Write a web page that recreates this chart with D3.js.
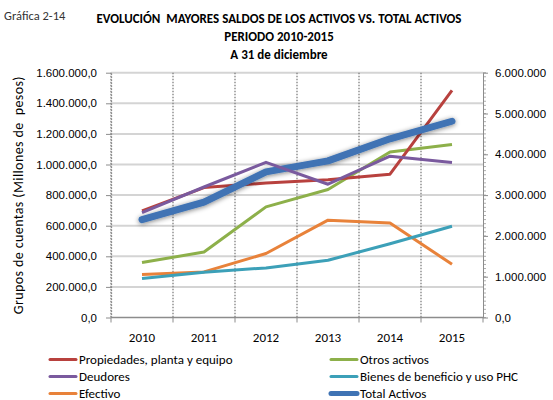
<!DOCTYPE html>
<html>
<head>
<meta charset="utf-8">
<script src="https://cdn.jsdelivr.net/npm/d3@7"></script>
<style>
  body { margin: 0; background: #fff; }
  svg { font-family: Carlito, Calibri, Lato, "Open Sans", sans-serif; }
</style>
</head>
<body>
<div id="chartDiv"></div>
<script>
// data
var years = ["2010", "2011", "2012", "2013", "2014", "2015"];
var propiedades = [697000, 849000, 879000, 900000, 937000, 1485000];
var deudores = [686000, 853000, 1014000, 871000, 1054000, 1013000];
var otrosActivos = [359000, 428000, 723000, 837000, 1082000, 1131000];
var bienes = [255000, 296000, 324000, 374000, 482000, 596000];
var efectivo = [281000, 298000, 418000, 636000, 618000, 348000];
var totalActivos = [2400000, 2830000, 3570000, 3840000, 4380000, 4810000];
var leftTicks = [0, 200000, 400000, 600000, 800000, 1000000, 1200000, 1400000, 1600000];
var rightTicks = [0, 1000000, 2000000, 3000000, 4000000, 5000000, 6000000];

var width = 553, height = 400;
var plot = { left: 111, right: 483, top: 72.7, bottom: 317.5 };

var locale = d3.formatLocale({ decimal: ",", thousands: ".", grouping: [3], currency: ["$", ""] });
var fmtLeft = locale.format(",.1f");
var fmtRight = function (d) { return d === 0 ? "0,0" : locale.format(",.0f")(d); };

var svg = d3.select("#chartDiv").append("svg")
  .attr("width", width)
  .attr("height", height);

// shadow for the total line
var defs = svg.append("defs");
var f = defs.append("filter").attr("id", "shadow")
  .attr("x", "-10%").attr("y", "-30%").attr("width", "120%").attr("height", "160%");
f.append("feGaussianBlur").attr("in", "SourceAlpha").attr("stdDeviation", 2.5).attr("result", "blur");
f.append("feOffset").attr("dx", 0).attr("dy", 1).attr("result", "off");
f.append("feComponentTransfer").append("feFuncA").attr("type", "linear").attr("slope", 0.5);
var merge = f.append("feMerge");
merge.append("feMergeNode");
merge.append("feMergeNode").attr("in", "SourceGraphic");

// titles
svg.append("text").attr("x", 4).attr("y", 20)
  .style("font-size", "12.5px").style("fill", "#333").text("Gráfica 2-14");
var titles = ["EVOLUCIÓN  MAYORES SALDOS DE LOS ACTIVOS VS. TOTAL ACTIVOS", "PERIODO 2010-2015", "A 31 de diciembre"];
titles.forEach(function (t, i) {
  svg.append("text")
    .attr("x", 279).attr("y", 23 + i * 18)
    .attr("text-anchor", "middle")
    .style("font-size", "13px").style("font-weight", "bold")
    .style("white-space", "pre")
    .text(t);
});

// scales
var x = d3.scaleBand().domain(years).range([plot.left, plot.right]);
var yLeft = d3.scaleLinear().domain([0, 1600000]).range([plot.bottom, plot.top]);
var yRight = d3.scaleLinear().domain([0, 6000000]).range([plot.bottom, plot.top]);
var cx = function (d, i) { return x(years[i]) + x.bandwidth() / 2; };

// horizontal gridlines
svg.append("g").selectAll("line")
  .data(leftTicks.filter(function (d) { return d > 0; }))
  .enter().append("line")
  .attr("x1", plot.left).attr("x2", plot.right)
  .attr("y1", function (d) { return yLeft(d); })
  .attr("y2", function (d) { return yLeft(d); })
  .style("stroke", "#d4d4d4").style("stroke-width", 2);

// vertical dotted gridlines at category boundaries
svg.append("g").selectAll("line")
  .data(years)
  .enter().append("line")
  .attr("x1", function (d) { return x(d); })
  .attr("x2", function (d) { return x(d); })
  .attr("y1", plot.top).attr("y2", plot.bottom)
  .style("stroke", "#7f7f7f").style("stroke-width", 1.3)
  .style("stroke-dasharray", "1.5,1.5");

// left axis
var leftAxis = d3.axisLeft(yLeft).tickValues(leftTicks).tickSize(5).tickSizeOuter(0).tickFormat(fmtLeft);
var gl = svg.append("g").attr("transform", "translate(" + plot.left + ",0)").call(leftAxis);
gl.select(".domain").style("stroke", "#8c8c8c").style("stroke-dasharray", "1.5,1.5").style("stroke-width", 1.3);
gl.selectAll(".tick line").style("stroke", "#8c8c8c");
gl.selectAll(".tick text").attr("x", -14).style("font-size", "11.5px").style("font-family", "inherit").style("fill", "#000");

// right axis with minor ticks
var minor = d3.range(0, 6000001, 100000);
svg.append("g").selectAll("line").data(minor).enter().append("line")
  .attr("x1", plot.right).attr("x2", plot.right + 3)
  .attr("y1", function (d) { return yRight(d); })
  .attr("y2", function (d) { return yRight(d); })
  .style("stroke", "#9a9a9a").style("stroke-width", 0.8);
var rightAxis = d3.axisRight(yRight).tickValues(rightTicks).tickSize(5).tickSizeOuter(0).tickFormat(fmtRight);
var gr = svg.append("g").attr("transform", "translate(" + plot.right + ",0)").call(rightAxis);
gr.select(".domain").style("stroke", "#8c8c8c");
gr.selectAll(".tick line").style("stroke", "#8c8c8c");
gr.selectAll(".tick text").attr("x", 12).style("font-size", "11.5px").style("font-family", "inherit").style("fill", "#000");

// bottom axis
svg.append("line").attr("x1", plot.left).attr("x2", plot.right)
  .attr("y1", plot.bottom).attr("y2", plot.bottom)
  .style("stroke", "#8c8c8c").style("stroke-width", 1.3);
svg.append("g").selectAll("line").data(years.concat(["end"])).enter().append("line")
  .attr("x1", function (d, i) { return plot.left + i * x.bandwidth(); })
  .attr("x2", function (d, i) { return plot.left + i * x.bandwidth(); })
  .attr("y1", plot.bottom).attr("y2", plot.bottom + 5)
  .style("stroke", "#8c8c8c");
svg.append("g").selectAll("text").data(years).enter().append("text")
  .attr("x", function (d) { return x(d) + x.bandwidth() / 2; })
  .attr("y", 342)
  .attr("text-anchor", "middle")
  .style("font-size", "13px")
  .text(function (d) { return d; });

// y axis title
svg.append("text")
  .attr("transform", "translate(23," + ((plot.top + plot.bottom) / 2) + ") rotate(-90)")
  .attr("text-anchor", "middle")
  .style("font-size", "14px")
  .style("letter-spacing", "0.4px")
  .style("white-space", "pre")
  .text("Grupos de cuentas (Millones de  pesos)");

// series lines
var series = [
  { name: "Propiedades, planta y equipo", values: propiedades, color: "#B8413E", w: 3, axis: yLeft },
  { name: "Otros activos", values: otrosActivos, color: "#8DB04A", w: 3, axis: yLeft },
  { name: "Deudores", values: deudores, color: "#7A5A9E", w: 3, axis: yLeft },
  { name: "Bienes de beneficio y uso PHC", values: bienes, color: "#3CA0B8", w: 3, axis: yLeft },
  { name: "Efectivo", values: efectivo, color: "#E8823A", w: 3, axis: yLeft },
  { name: "Total Activos", values: totalActivos, color: "#3F73B4", w: 7, axis: yRight }
];

var drawOrder = [4, 3, 1, 0, 5, 2];
drawOrder.forEach(function (k) {
  var s = series[k];
  var line = d3.line()
    .x(cx)
    .y(function (d) { return s.axis(d); });
  svg.append("path")
    .datum(s.values)
    .attr("d", line)
    .style("fill", "none")
    .style("stroke", s.color)
    .style("stroke-width", s.w)
    .style("stroke-linejoin", "round")
    .style("stroke-linecap", k === 5 ? "round" : "butt")
    .attr("filter", k === 5 ? "url(#shadow)" : null);
});

// legend, two columns
var legend = svg.append("g");
series.forEach(function (s, i) {
  var col = i % 2, row = Math.floor(i / 2);
  var lx = col === 0 ? 50 : 331;
  var ly = 359.5 + row * 17;
  legend.append("line")
    .attr("x1", lx).attr("x2", lx + 26)
    .attr("y1", ly).attr("y2", ly)
    .style("stroke", s.color)
    .style("stroke-width", s.w === 7 ? 5 : 3)
    .style("stroke-linecap", "round");
  legend.append("text")
    .attr("x", lx + 29).attr("y", ly + 4.5)
    .style("font-size", "13px")
    .text(s.name);
});
</script>
</body>
</html>
